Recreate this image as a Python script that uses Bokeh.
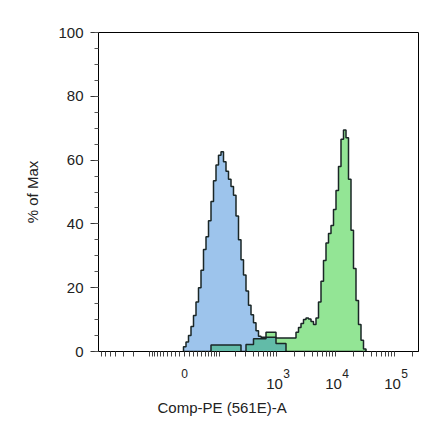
import numpy as np
from bokeh.plotting import figure
from bokeh.models import Range1d, LinearAxis, FixedTicker, SingleIntervalTicker, Title
from bokeh.embed import file_html
from bokeh.resources import INLINE

# ---- data -------------------------------------------------------------
# Histogram bins on the display channel scale (0-256 across the plot), 2 channels wide
bin_start = 68
bin_width = 2

# % of Max, isotype control (blue) and stained sample (green)
isotype_pct = [1.5, 3.0, 5.0, 7.8, 11.3, 15.5, 20.0, 25.5, 32.0, 36.0,
               41.0, 47.0, 53.5, 58.5, 61.5, 62.6, 59.5, 56.5, 54.0, 51.7,
               49.0, 42.5, 35.0, 28.8, 24.0, 19.0, 14.5, 11.5, 9.0, 6.5,
               4.8, 4.5, 4.5, 4.5, 4.5, 4.5, 4.5, 2.5, 2.5, 2.5,
               2.5] + [0.0] * 32

stained_pct = ([0.0] * 11 + [2.0] * 12 + [0.0] * 2 + [2.2] * 3 + [4.0] * 5 +
               [6.0] * 4 + [4.2] * 8 +
               [6.0, 7.5, 8.8, 10.0, 10.5, 10.2, 9.4, 8.5, 10.5, 15.5,
                22.0, 28.5, 34.0, 37.0, 39.5, 44.5, 50.5, 58.0, 66.5, 69.4,
                67.0, 54.0, 38.0, 26.0, 16.0, 8.5, 3.5, 0.8])

# axis texts
x_label = "Comp-PE (561E)-A"
y_label = "% of Max"
x_major_values = [0, 1e3, 1e4, 1e5]
x_base_labels = ["10", "10", "10"]
x_top_labels = ["0", "3", "4", "5"]
x_minor_values = ([-v for v in range(100, 800, 100)] + [-v for v in range(10, 100, 10)] +
                  list(range(10, 100, 10)) + list(range(100, 1000, 100)) +
                  list(range(2000, 10000, 1000)) + list(range(20000, 100000, 10000)) + [200000])

# ---- biexponential display transform (value -> channel) ---------------
def disp(v):
    return np.round(68.8 + 20.5 * np.arcsinh(np.asarray(v, dtype=float) / 55.2), 3)

def step_outline(vals):
    edges = bin_start + bin_width * np.arange(len(vals) + 1)
    xs, ys = [float(edges[0])], [0.0]
    for k, v in enumerate(vals):
        xs += [float(edges[k]), float(edges[k + 1])]
        ys += [v, v]
    xs.append(float(edges[-1]))
    ys.append(0.0)
    return xs, ys

FONT = "Liberation Sans"
TXT = "#222222"

p = figure(frame_width=320, frame_height=319, output_backend="svg", toolbar_location=None,
           x_range=Range1d(0, 256), y_range=Range1d(0, 100),
           x_axis_location=None, min_border_left=98, min_border_right=14,
           min_border_top=32, min_border_bottom=10)
p.xgrid.visible = False
p.ygrid.visible = False
p.outline_line_color = "black"
p.outline_line_width = 1
p.background_fill_color = "white"
p.border_fill_color = "white"

bx, by = step_outline(isotype_pct)
gx, gy = step_outline(stained_pct)
ox, oy = step_outline(list(np.minimum(isotype_pct, stained_pct)))

p.patch(bx, by, fill_color="#9DC4EC", line_color=None)
p.patch(gx, gy, fill_color="#93E595", line_color=None)
p.patch(ox, oy, fill_color="#62BBA8", line_color=None)
p.line(bx, by, line_color="#1a2626", line_width=1.5)
p.line(gx, gy, line_color="#1a2626", line_width=1.5)

# y axis
ya = p.yaxis[0]
ya.ticker = SingleIntervalTicker(interval=20, num_minor_ticks=4)
ya.axis_label = y_label
ya.axis_label_text_font = FONT
ya.axis_label_text_font_size = "15px"
ya.axis_label_text_font_style = "normal"
ya.axis_label_text_color = TXT
ya.axis_label_standoff = 14
ya.major_label_text_font = FONT
ya.major_label_text_font_size = "15px"
ya.major_label_text_color = TXT
ya.major_label_standoff = 7
ya.major_tick_out = 8
ya.major_tick_in = 0
ya.minor_tick_out = 4
ya.minor_tick_in = 0
ya.axis_line_color = "black"
ya.major_tick_line_color = "#333333"
ya.minor_tick_line_color = "#555555"

# x axis: tick marks (as minor ticks) + "0" and exponent labels
maj = [float(t) for t in disp(x_major_values)]
top_ticks = [maj[0]] + [round(t + 8.0, 3) for t in maj[1:]]
all_marks = sorted(maj + [float(t) for t in disp(x_minor_values)])
ax0 = LinearAxis(ticker=FixedTicker(ticks=top_ticks, minor_ticks=all_marks))
ax0.major_label_overrides = {t: s for t, s in zip(top_ticks, x_top_labels)}
ax0.major_tick_out = 7
ax0.major_tick_in = 0
ax0.major_tick_line_color = None
ax0.minor_tick_out = 5
ax0.minor_tick_in = 0
ax0.minor_tick_line_color = "#444444"
ax0.axis_line_color = "black"
ax0.major_label_standoff = 10
ax0.major_label_text_font = FONT
ax0.major_label_text_font_size = "12px"
ax0.major_label_text_color = TXT
p.add_layout(ax0, "below")

# x axis: "10" bases of the decade labels
base_ticks = [round(t - 1.6, 3) for t in maj[1:]]
ax1 = LinearAxis(ticker=FixedTicker(ticks=base_ticks, minor_ticks=[]))
ax1.major_label_overrides = {t: s for t, s in zip(base_ticks, x_base_labels)}
ax1.axis_line_color = None
ax1.major_tick_line_color = None
ax1.minor_tick_line_color = None
ax1.major_tick_out = 0
ax1.major_label_standoff = -2
ax1.major_label_text_font = FONT
ax1.major_label_text_font_size = "15px"
ax1.major_label_text_color = TXT
p.add_layout(ax1, "below")

xt = Title(text=x_label, align="left", offset=59, text_font=FONT,
           text_font_size="15px", text_font_style="normal", text_color=TXT)
if "standoff" in Title.properties():
    xt.standoff = xt.standoff + 1
p.add_layout(xt, "below")

open("out.html", "w").write(file_html(p, INLINE))
